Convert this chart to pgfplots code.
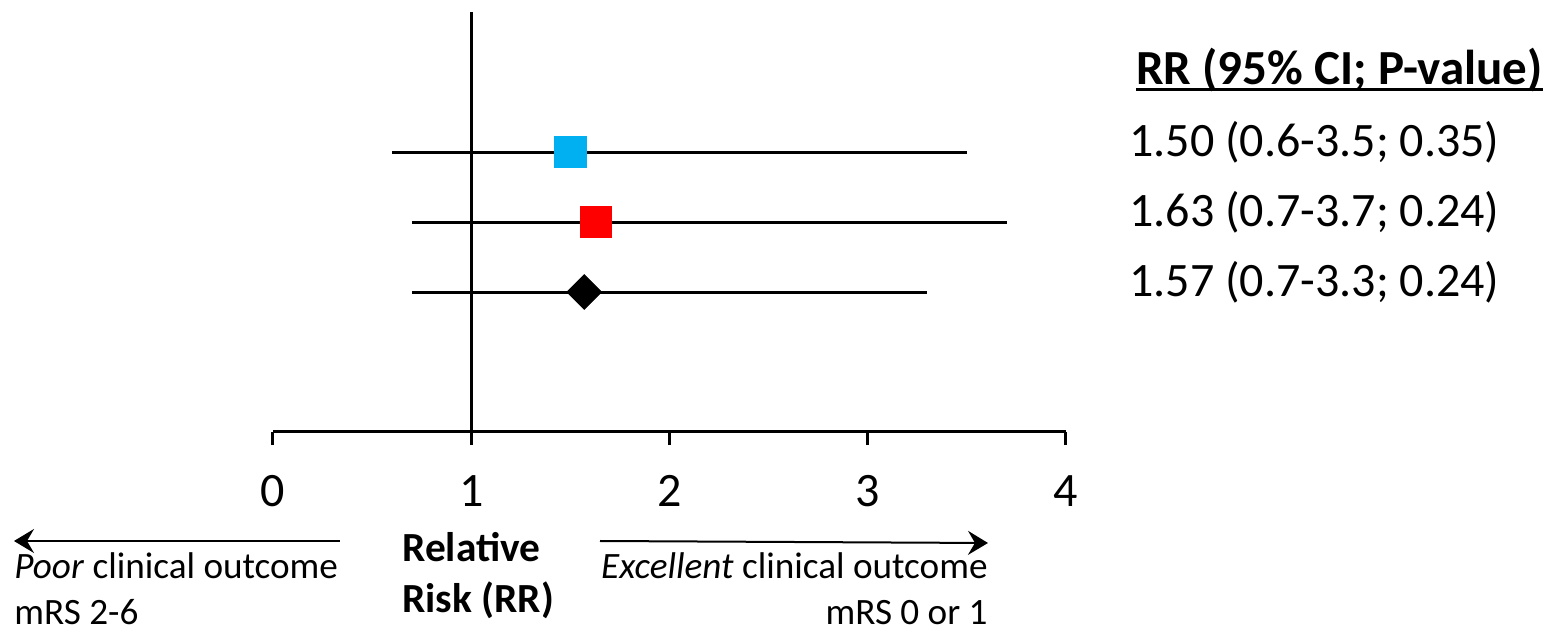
\documentclass[border=0pt]{standalone}
\usepackage{pgfplots}
\pgfplotsset{compat=1.18}
\usepackage{pgfplotstable}
\usepackage{fontspec}
\setmainfont{Carlito}
\usetikzlibrary{arrows.meta}
\definecolor{rrblue}{HTML}{00B0F0}
\definecolor{rrred}{HTML}{FF0000}

\pgfplotstableread{
y rr lo hi
5 1.50 0.6 3.5
4 1.63 0.7 3.7
3 1.57 0.7 3.3
}\rrdata

\begin{document}
\begin{tikzpicture}
\begin{axis}[
  at={(0,0)}, anchor=south west,
  scale only axis,
  width=396.5pt, height=210pt,
  xmin=0, xmax=4, ymin=1, ymax=7,
  axis x line*=bottom, axis y line=none,
  xtick={0,1,2,3,4},
  tick align=outside,
  major tick length=6.5pt,
  tick style={black, line width=1.5pt},
  axis line style={black, line width=1.5pt},
  xticklabel style={anchor=base, yshift=-30.5pt, font=\fontsize{24}{28}\selectfont},
  /pgf/number format/assume math mode=true,
  clip=false,
]
% reference line at RR = 1
\addplot[black, line width=1.5pt] coordinates {(1,1) (1,7)};
% confidence intervals
\addplot[only marks, mark=none, black,
  error bars/.cd, x dir=both, x explicit, error mark=none,
  error bar style={line width=1.5pt, black}]
  table[x=rr, y=y,
        x error plus expr=\thisrow{hi}-\thisrow{rr},
        x error minus expr=\thisrow{rr}-\thisrow{lo}] {\rrdata};
% point estimates
\addplot[only marks, mark=square*, mark size=7.8pt, color=rrblue] coordinates {(1.50,5)};
\addplot[only marks, mark=square*, mark size=7.8pt, color=rrred] coordinates {(1.63,4)};
\addplot[only marks, mark=square*, mark size=6.1pt, mark options={rotate=45}, color=black] coordinates {(1.57,3)};
\end{axis}

\begin{scope}[x=0.5pt, y=-0.5pt, shift={(-136.5pt,216pt)}]
  % right-hand column
  \node[anchor=base west, inner sep=0, font=\bfseries\fontsize{24.5}{28}\selectfont] (h) at (1136,85) {RR (95\% CI; P-value)};
  \draw[line width=1.5pt] ([yshift=-2.2pt]h.base west) -- ([yshift=-2.2pt]h.base east);
  \node[anchor=base west, inner sep=0, font=\fontsize{24}{28}\selectfont] at (1129,156.5) {1.50 (0.6-3.5; 0.35)};
  \node[anchor=base west, inner sep=0, font=\fontsize{24}{28}\selectfont] at (1129,226.5) {1.63 (0.7-3.7; 0.24)};
  \node[anchor=base west, inner sep=0, font=\fontsize{24}{28}\selectfont] at (1129,296.5) {1.57 (0.7-3.3; 0.24)};
  % bottom annotations
  \draw[line width=1pt, -{Stealth[length=10pt, width=12pt, inset=3.5pt]}] (340,541) -- (14,541);
  \draw[line width=1pt, -{Stealth[length=10pt, width=12pt, inset=3.5pt]}] (600,541) -- (988,543);
  \node[anchor=base west, inner sep=0, font=\fontsize{18.6}{22}\selectfont] at (14,579) {\textit{Poor} clinical outcome};
  \node[anchor=base west, inner sep=0, font=\fontsize{18.6}{22}\selectfont] at (14,625) {mRS 2-6};
  \node[anchor=base east, inner sep=0, font=\fontsize{18.6}{22}\selectfont] at (988,579) {\textit{Excellent} clinical outcome};
  \node[anchor=base east, inner sep=0, font=\fontsize{18.6}{22}\selectfont] at (988,625) {mRS 0 or 1};
  \node[anchor=base west, inner sep=0, font=\bfseries\fontsize{20.7}{24}\selectfont] at (402,562) {Relative};
  \node[anchor=base west, inner sep=0, font=\bfseries\fontsize{20.7}{24}\selectfont] at (402,613) {Risk (RR)};
  \pgfresetboundingbox
  \path[use as bounding box] (0,0) rectangle (1560,637);
\end{scope}
\end{tikzpicture}
\end{document}
